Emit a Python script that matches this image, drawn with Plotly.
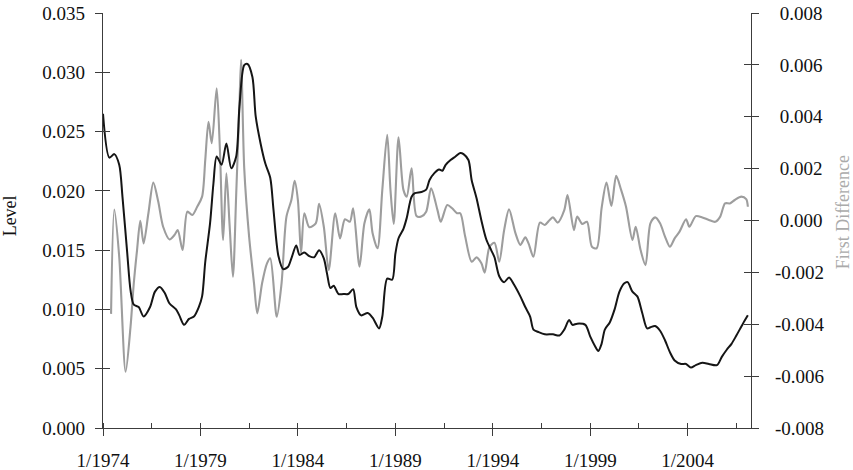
import plotly.graph_objects as go

# black series: level (left axis)
level_dates = [
    "1974-01", "1974-05", "1974-08", "1974-11", "1975-01", "1975-04", "1975-06", "1975-08",
    "1975-11", "1976-02", "1976-06", "1976-09", "1976-12", "1977-03", "1977-06", "1977-10",
    "1977-12", "1978-03", "1978-06", "1978-09", "1978-12", "1979-02", "1979-04", "1979-07",
    "1979-09", "1979-11", "1980-02", "1980-05", "1980-08", "1980-11", "1981-01", "1981-04",
    "1981-06", "1981-09", "1981-11", "1982-02", "1982-05", "1982-08", "1982-10", "1983-01",
    "1983-04", "1983-07", "1983-09", "1983-12", "1984-02", "1984-05", "1984-08", "1984-11",
    "1985-02", "1985-05", "1985-07", "1985-09", "1985-11", "1986-02", "1986-05", "1986-08",
    "1986-11", "1987-01", "1987-04", "1987-08", "1987-11", "1988-03", "1988-05", "1988-08",
    "1988-11", "1989-01", "1989-03", "1989-06", "1989-08", "1989-11", "1990-01", "1990-05",
    "1990-08", "1990-10", "1991-01", "1991-04", "1991-06", "1991-08", "1991-11", "1992-02",
    "1992-05", "1992-07", "1992-10", "1992-12", "1993-03", "1993-06", "1993-09", "1993-12",
    "1994-02", "1994-05", "1994-08", "1994-11", "1995-02", "1995-06", "1995-09", "1995-12",
    "1996-02", "1996-05", "1996-09", "1997-02", "1997-06", "1997-09", "1997-12", "1998-02",
    "1998-05", "1998-10", "1999-01", "1999-04", "1999-06", "1999-08", "1999-10", "2000-01",
    "2000-04", "2000-07", "2000-10", "2000-12", "2001-03", "2001-06", "2001-09", "2001-12",
    "2002-02", "2002-05", "2002-08", "2002-11", "2003-02", "2003-05", "2003-09", "2003-12",
    "2004-03", "2004-06", "2004-10", "2005-02", "2005-07", "2005-10", "2006-01", "2006-04",
    "2006-07", "2006-11", "2007-02",
]
level_values = [
    0.0265, 0.0228, 0.0231, 0.0222, 0.0195, 0.0147, 0.0116, 0.0104,
    0.0102, 0.0094, 0.0102, 0.0115, 0.0119, 0.0114, 0.0105, 0.0100,
    0.0095, 0.0087, 0.0092, 0.0094, 0.0102, 0.0111, 0.0140, 0.0173,
    0.0206, 0.0229, 0.0222, 0.0240, 0.0219, 0.0229, 0.0271, 0.0306,
    0.0307, 0.0296, 0.0263, 0.0240, 0.0223, 0.0211, 0.0184, 0.0145,
    0.0134, 0.0136, 0.0143, 0.0154, 0.0146, 0.0148, 0.0145, 0.0144,
    0.0150, 0.0143, 0.0130, 0.0118, 0.0120, 0.0113, 0.0113, 0.0113,
    0.0117, 0.0102, 0.0095, 0.0097, 0.0093, 0.0084, 0.0094, 0.0126,
    0.0125, 0.0147, 0.0160, 0.0168, 0.0177, 0.0195, 0.0198, 0.0199,
    0.0201, 0.0209, 0.0215, 0.0218, 0.0217, 0.0222, 0.0226, 0.0229,
    0.0232, 0.0231, 0.0226, 0.0209, 0.0194, 0.0175, 0.0159, 0.0150,
    0.0144, 0.0128, 0.0123, 0.0127, 0.0121, 0.0111, 0.0102, 0.0094,
    0.0083, 0.0081, 0.0079, 0.0079, 0.0078, 0.0083, 0.0091, 0.0087,
    0.0088, 0.0087, 0.0077, 0.0069, 0.0065, 0.0071, 0.0083, 0.0089,
    0.0100, 0.0115, 0.0122, 0.0123, 0.0115, 0.0111, 0.0097, 0.0084,
    0.0085, 0.0086, 0.0082, 0.0074, 0.0064, 0.0057, 0.0054, 0.0054,
    0.0051, 0.0053, 0.0055, 0.0054, 0.0053, 0.0060, 0.0066, 0.0071,
    0.0078, 0.0088, 0.0095,
]

# grey series: first difference (right axis)
diff_dates = [
    "1974-06", "1974-08", "1974-11", "1975-03", "1975-06", "1975-08", "1975-10", "1975-12",
    "1976-02", "1976-05", "1976-08", "1976-11", "1977-02", "1977-06", "1977-09", "1977-11",
    "1978-02", "1978-05", "1978-08", "1978-11", "1979-02", "1979-04", "1979-06", "1979-08",
    "1979-11", "1980-01", "1980-03", "1980-05", "1980-07", "1980-09", "1980-11", "1981-01",
    "1981-02", "1981-04", "1981-07", "1981-10", "1981-12", "1982-03", "1982-06", "1982-08",
    "1982-12", "1983-03", "1983-06", "1983-09", "1983-11", "1984-01", "1984-03", "1984-05",
    "1984-08", "1984-12", "1985-02", "1985-05", "1985-08", "1985-12", "1986-03", "1986-06",
    "1986-09", "1986-11", "1987-03", "1987-06", "1987-09", "1987-11", "1988-02", "1988-05",
    "1988-08", "1988-10", "1988-12", "1989-03", "1989-06", "1989-08", "1989-11", "1990-02",
    "1990-05", "1990-08", "1990-11", "1991-03", "1991-05", "1991-09", "1991-12", "1992-03",
    "1992-05", "1992-08", "1992-12", "1993-03", "1993-06", "1993-08", "1993-11", "1994-02",
    "1994-05", "1994-08", "1994-11", "1995-03", "1995-06", "1995-09", "1995-11", "1996-02",
    "1996-06", "1996-09", "1996-12", "1997-02", "1997-05", "1997-09", "1997-11", "1998-03",
    "1998-05", "1998-08", "1998-11", "1999-02", "1999-05", "1999-08", "1999-11", "2000-02",
    "2000-05", "2000-08", "2000-11", "2001-03", "2001-05", "2001-08", "2001-11", "2002-02",
    "2002-05", "2002-08", "2002-11", "2003-02", "2003-05", "2003-08", "2003-12", "2004-02",
    "2004-06", "2004-10", "2005-02", "2005-06", "2005-09", "2005-12", "2006-03", "2006-06",
    "2006-10", "2007-01", "2007-02",
]
diff_values = [
    -0.00360, 0.00042, -0.00140, -0.00583, -0.00409, -0.00242, -0.00114, -0.00001,
    -0.00088, 0.00028, 0.00146, 0.00073, -0.00024, -0.00073, -0.00056, -0.00037,
    -0.00114, 0.00034, 0.00021, 0.00053, 0.00092, 0.00233, 0.00381, 0.00298,
    0.00510, 0.00272, -0.00075, 0.00182, -0.00020, -0.00217, 0.00100, 0.00450,
    0.00620, 0.00200, -0.00062, -0.00242, -0.00358, -0.00242, -0.00165, -0.00146,
    -0.00371, -0.00242, 0.00015, 0.00079, 0.00153, 0.00079, -0.00126, 0.00028,
    -0.00026, -0.00011, 0.00064, -0.00024, -0.00191, 0.00028, -0.00069, 0.00005,
    -0.00005, 0.00047, -0.00178, -0.00011, 0.00043, -0.00049, -0.00107, 0.00118,
    0.00330, 0.00118, -0.00013, 0.00321, 0.00118, 0.00092, 0.00201, 0.00017,
    0.00015, 0.00034, 0.00124, 0.00040, -0.00005, 0.00060, 0.00047, 0.00028,
    0.00028, -0.00062, -0.00159, -0.00142, -0.00165, -0.00201, -0.00101, -0.00086,
    -0.00159, -0.00037, 0.00043, -0.00049, -0.00094, -0.00065, -0.00088, -0.00140,
    -0.00008, -0.00017, 0.00002, 0.00012, -0.00008, 0.00040, 0.00098, -0.00037,
    0.00015, -0.00013, -0.00005, -0.00101, -0.00107, 0.00047, 0.00146, 0.00056,
    0.00172, 0.00118, 0.00053, -0.00075, -0.00024, -0.00114, -0.00172, -0.00011,
    0.00012, -0.00011, -0.00062, -0.00101, -0.00069, -0.00043, 0.00005, -0.00024,
    0.00017, 0.00012, 0.00002, -0.00005, 0.00015, 0.00066, 0.00066, 0.00079,
    0.00092, 0.00082, 0.00053,
]

level_ticks = [0.000, 0.005, 0.010, 0.015, 0.020, 0.025, 0.030, 0.035]
diff_ticks = [-0.008, -0.006, -0.004, -0.002, 0.000, 0.002, 0.004, 0.006, 0.008]

FONT = "Liberation Serif"
AXIS_COL = "#3c3c3c"
TICK_FONT = dict(family=FONT, size=19, color="#111")

# right-hand labels line up on their right edge in the original
diff_text = [f"{v:.3f}" if v < 0 else "\u2008" + f"{v:.3f}" for v in diff_ticks]

fig = go.Figure()

fig.add_trace(go.Scatter(
    x=diff_dates, y=diff_values, name="First Difference",
    mode="lines", line=dict(color="#9d9d9d", width=2.1, shape="spline", smoothing=0.8),
    yaxis="y",
))
fig.add_trace(go.Scatter(
    x=level_dates, y=level_values, name="Level",
    mode="lines", line=dict(color="#151515", width=2, shape="spline", smoothing=0.8),
    yaxis="y2",
))
# empty traces so the tick-only overlay axes get drawn
fig.add_trace(go.Scatter(x=[], y=[], yaxis="y3", hoverinfo="skip"))
fig.add_trace(go.Scatter(x=[], y=[], yaxis="y4", hoverinfo="skip"))

common_y = dict(
    showgrid=False, zeroline=False, automargin=False, tickfont=TICK_FONT,
    tickcolor=AXIS_COL, tickwidth=1.3, ticklen=7,
)

fig.update_layout(
    width=853, height=470,
    margin=dict(l=103, r=102, t=13, b=42),
    paper_bgcolor="white", plot_bgcolor="white",
    showlegend=False,
    font=dict(family=FONT, size=19, color="#111"),
    xaxis=dict(
        type="date",
        range=["1974-01-01", "2007-04-01"],
        automargin=False,
        showgrid=False, zeroline=False,
        showline=True, linecolor=AXIS_COL, linewidth=1.3,
        tick0="1974-01-01", dtick="M60", tickformat="%-m/%Y",
        ticks="outside", ticklen=7, tickwidth=1.3, tickcolor=AXIS_COL,
        ticklabelstandoff=8,
        tickfont=TICK_FONT,
        minor=dict(tick0="1974-01-01", dtick="M30", ticks="inside",
                   ticklen=5, tickwidth=1.3, tickcolor=AXIS_COL, showgrid=False),
    ),
    yaxis=dict(
        side="right", range=[-0.008, 0.008],
        tickvals=diff_ticks, ticktext=diff_text,
        showline=True, linecolor=AXIS_COL, linewidth=1.3,
        ticks="outside", ticklabelstandoff=12, **common_y,
    ),
    yaxis2=dict(
        side="left", overlaying="y", anchor="x", range=[0, 0.035],
        tickvals=level_ticks, ticktext=[f"{v:.3f}" for v in level_ticks],
        showline=True, linecolor=AXIS_COL, linewidth=1.3,
        ticks="outside", ticklabelstandoff=6, **common_y,
    ),
    # inner halves of the crossing tick marks
    yaxis3=dict(
        side="right", overlaying="y", anchor="x", range=[-0.008, 0.008],
        tickvals=diff_ticks, showticklabels=False, showline=False,
        ticks="inside", **common_y,
    ),
    yaxis4=dict(
        side="left", overlaying="y", anchor="x", range=[0, 0.035],
        tickvals=level_ticks, showticklabels=False, showline=False,
        ticks="inside", **common_y,
    ),
    annotations=[
        dict(text="Level", xref="paper", yref="paper", x=-0.1435, y=0.51,
             xanchor="center", yanchor="middle",
             textangle=-90, showarrow=False, font=dict(family=FONT, size=18, color="#111")),
        dict(text="First Difference", xref="paper", yref="paper", x=1.142, y=0.52,
             xanchor="center", yanchor="middle",
             textangle=-90, showarrow=False, font=dict(family=FONT, size=18, color="#aaaaaa")),
    ],
)

# the page's default body margin would push the figure 8px off the window
fig.write_html("out.html", config={"displayModeBar": False},
               post_script="document.body.style.margin='0';")
